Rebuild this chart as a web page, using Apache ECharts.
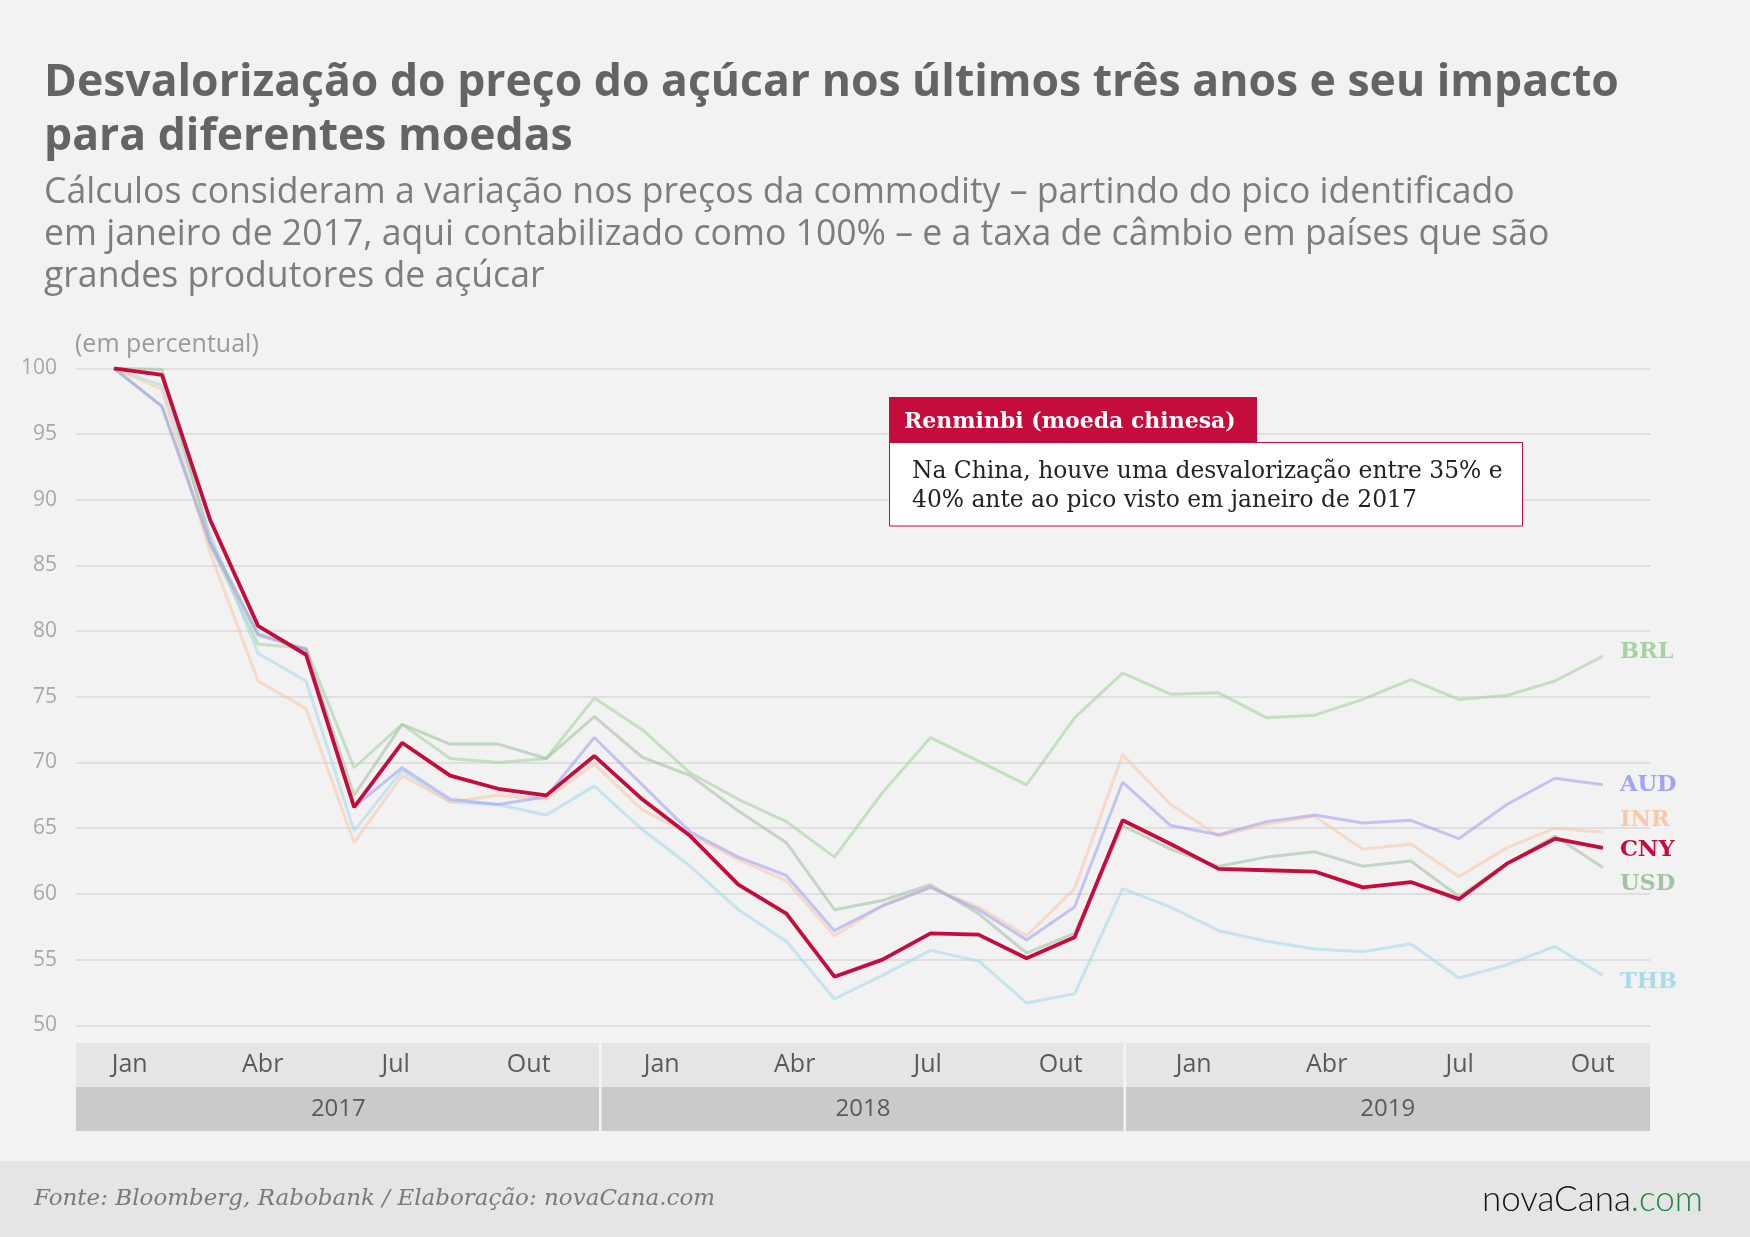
<!DOCTYPE html>
<html>
<head>
<meta charset="utf-8">
<script src="https://cdn.jsdelivr.net/npm/echarts@6/dist/echarts.min.js"></script>
<style>
  html, body { margin: 0; padding: 0; background: #f2f2f2; }
  #echart { width: 1750px; height: 1237px; }
</style>
</head>
<body>
<div id="echart"></div>
<script>
	'use strict'

	/*-----data-----*/
	var months = ['Jan', 'Abr', 'Jul', 'Out', 'Jan', 'Abr', 'Jul', 'Out', 'Jan', 'Abr', 'Jul', 'Out'];
	var years = ['2017', '2018', '2019'];

	var brl = [100, 97.1, 86.6, 79.0, 78.7, 69.6, 72.9, 70.3, 70.0, 70.3, 74.9, 72.5, 69.2, 67.2, 65.5, 62.8,
		67.7, 71.9, 70.1, 68.3, 73.4, 76.8, 75.2, 75.3, 73.4, 73.6, 74.8, 76.3, 74.8, 75.1, 76.2, 78.1];
	var aud = [100, 97.1, 86.7, 79.7, 78.6, 66.6, 69.6, 67.2, 66.8, 67.4, 71.9, 68.3, 64.7, 62.8, 61.4, 57.2,
		59.1, 60.5, 58.8, 56.5, 59.0, 68.5, 65.2, 64.5, 65.5, 66.0, 65.4, 65.6, 64.2, 66.8, 68.8, 68.3];
	var inr = [100, 98.4, 86.0, 76.2, 74.1, 63.9, 69.0, 67.0, 67.5, 67.2, 69.9, 66.4, 64.5, 62.6, 61.0, 56.8,
		59.1, 60.5, 59.0, 56.8, 60.4, 70.6, 66.8, 64.4, 65.3, 65.9, 63.4, 63.8, 61.3, 63.5, 65.0, 64.7];
	var usd = [100, 99.9, 86.9, 79.8, 78.6, 67.5, 72.9, 71.4, 71.4, 70.3, 73.5, 70.4, 69.0, 66.3, 63.9, 58.8,
		59.5, 60.7, 58.5, 55.5, 57.0, 65.2, 63.4, 62.1, 62.8, 63.2, 62.1, 62.5, 59.8, 62.3, 64.4, 62.0];
	var thb = [100, 98.7, 87.4, 78.3, 76.2, 64.8, 69.4, 67.0, 66.8, 66.0, 68.2, 64.9, 62.1, 58.8, 56.4, 52.0,
		53.8, 55.7, 54.9, 51.7, 52.4, 60.4, 59.0, 57.2, 56.4, 55.8, 55.6, 56.2, 53.6, 54.6, 56.0, 53.8];
	var cny = [100, 99.5, 88.5, 80.4, 78.2, 66.6, 71.5, 69.0, 68.0, 67.5, 70.5, 67.2, 64.4, 60.7, 58.5, 53.7,
		55.0, 57.0, 56.9, 55.1, 56.7, 65.6, 63.8, 61.9, 61.8, 61.7, 60.5, 60.9, 59.6, 62.3, 64.2, 63.5];

	function pairs(arr) {
		return arr.map(function(v, i) { return [i, v]; });
	}

	function serie(name, values, color, width, opacity, offset, z) {
		return {
			name: name,
			type: 'line',
			xAxisIndex: 0,
			yAxisIndex: 0,
			data: pairs(values),
			symbol: 'none',
			z: z,
			silent: true,
			lineStyle: { color: color, width: width, opacity: opacity },
			endLabel: {
				show: true,
				formatter: name,
				color: color,
				distance: 17,
				offset: offset,
				fontFamily: 'DejaVu Serif',
				fontWeight: 'bold',
				fontSize: 22.5
			}
		};
	}

	var chart = echarts.init(document.getElementById('echart'));
	var font = 'Open Sans';

	var option = {
		backgroundColor: '#f2f2f2',
		animation: false,
		title: [{
			text: 'Desvalorização do preço do açúcar nos últimos três anos e seu impacto\npara diferentes moedas',
			left: 44,
			top: 56,
			padding: 0,
			textStyle: { fontFamily: font, fontWeight: 'bold', fontSize: 44.5, lineHeight: 54, color: '#646464' }
		}, {
			text: 'Cálculos consideram a variação nos preços da commodity – partindo do pico identificado\n' +
				'em janeiro de 2017, aqui contabilizado como 100% – e a taxa de câmbio em países que são\n' +
				'grandes produtores de açúcar',
			left: 44,
			top: 172,
			padding: 0,
			textStyle: { fontFamily: font, fontWeight: 'normal', fontSize: 35.6, lineHeight: 42, color: '#7d7d7d' }
		}, {
			text: '(em percentual)',
			left: 75,
			top: 330,
			padding: 0,
			textStyle: { fontFamily: font, fontWeight: 'normal', fontSize: 25, lineHeight: 30, color: '#9a9a9a' }
		}, {
			text: 'Fonte: Bloomberg, Rabobank / Elaboração: novaCana.com',
			left: 34,
			top: 1185,
			padding: 0,
			textStyle: { fontFamily: 'DejaVu Serif', fontStyle: 'italic', fontWeight: 'normal', fontSize: 23, lineHeight: 28, color: '#7a7a7a' }
		}, {
			text: '{a|novaCana}{b|.com}',
			left: 1482,
			top: 1182,
			padding: 0,
			textStyle: {
				rich: {
					a: { fontFamily: 'Lato', fontWeight: 300, fontSize: 35, color: '#111111' },
					b: { fontFamily: 'Lato', fontWeight: 300, fontSize: 35, color: '#1b8a3e' }
				}
			}
		}],
		graphic: [
			// faixa do rodapé
			{ type: 'rect', shape: { x: 0, y: 1161, width: 1750, height: 76 }, style: { fill: '#e5e5e5' }, z: -1 },
			// faixas do eixo x
			{ type: 'rect', shape: { x: 76, y: 1043, width: 1574, height: 44 }, style: { fill: '#e5e5e5' }, z: -1 },
			{ type: 'rect', shape: { x: 76, y: 1087, width: 1574, height: 44 }, style: { fill: '#cacaca' }, z: -1 },
			{ type: 'rect', shape: { x: 599, y: 1043, width: 2.5, height: 88 }, style: { fill: '#f4f4f4' }, z: 0 },
			{ type: 'rect', shape: { x: 1123.5, y: 1043, width: 2.5, height: 88 }, style: { fill: '#f4f4f4' }, z: 0 },
			// anotação
			{ type: 'rect', shape: { x: 889, y: 397, width: 368, height: 46 }, style: { fill: '#c40d3d' }, z: 10 },
			{ type: 'rect', shape: { x: 889.5, y: 442.5, width: 633, height: 83.5 }, style: { fill: '#ffffff', stroke: '#c40d3d', lineWidth: 1 }, z: 10 },
			{
				type: 'text', z: 11,
				style: {
					x: 904, y: 422, text: 'Renminbi (moeda chinesa)', verticalAlign: 'middle',
					fill: '#ffffff', font: 'bold 22px "DejaVu Serif"'
				}
			}, {
				type: 'text', z: 11,
				style: {
					x: 912, y: 457, text: 'Na China, houve uma desvalorização entre 35% e\n40% ante ao pico visto em janeiro de 2017',
					verticalAlign: 'top', lineHeight: 29,
					fill: '#222222', font: '23.4px "DejaVu Serif"'
				}
			}
		],
		grid: [
			{ left: 76, right: 100, top: 368.3, bottom: 211.7 },
			{ left: 63.2, width: 1596, top: 1000, height: 43 },
			{ left: 76, width: 1574, top: 1040, height: 47 }
		],
		xAxis: [{
			type: 'value',
			gridIndex: 0,
			min: -0.79,
			max: 31.98,
			show: false
		}, {
			type: 'category',
			gridIndex: 1,
			data: months,
			axisLine: { show: false },
			axisTick: { show: false },
			axisLabel: { interval: 0, margin: 22, verticalAlign: 'middle', fontFamily: font, fontSize: 25, color: '#5a5a5a' }
		}, {
			type: 'category',
			gridIndex: 2,
			data: years,
			axisLine: { show: false },
			axisTick: { show: false },
			axisLabel: { interval: 0, margin: 22, verticalAlign: 'middle', fontFamily: font, fontSize: 24, color: '#5a5a5a' }
		}],
		yAxis: [{
			type: 'value',
			gridIndex: 0,
			min: 50,
			max: 100,
			interval: 5,
			axisLine: { show: false },
			axisTick: { show: false },
			axisLabel: { margin: 19, fontFamily: font, fontSize: 21, color: '#a8a8a8' },
			splitLine: { lineStyle: { color: '#d8d8d8', width: 1.5 } }
		}, {
			type: 'value', gridIndex: 1, show: false
		}, {
			type: 'value', gridIndex: 2, show: false
		}],
		series: [
			serie('BRL', brl, '#a5d4a0', 3, 0.6, [0, -4], 2),
			serie('THB', thb, '#a9dbe9', 3, 0.6, [0, 7], 2),
			serie('USD', usd, '#a5c2a5', 3, 0.6, [0, 17], 2),
			serie('INR', inr, '#f7c9aa', 3, 0.6, [0, -12], 2),
			serie('AUD', aud, '#a3a3f3', 3, 0.6, [0, 0], 2),
			serie('CNY', cny, '#c40d3d', 3.8, 1, [0, 2], 3)
		]
	};
	chart.setOption(option);
</script>
</body>
</html>
